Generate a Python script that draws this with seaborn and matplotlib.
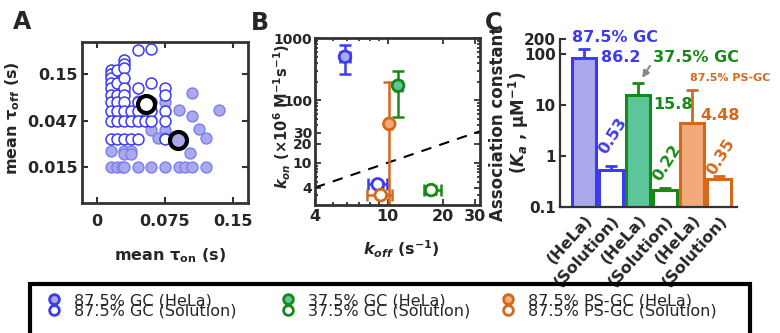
import matplotlib
matplotlib.use("Agg")
import matplotlib.pyplot as plt
import seaborn as sns
import pandas as pd
import numpy as np
from matplotlib.patches import Rectangle
from matplotlib.lines import Line2D
from matplotlib.ticker import FixedLocator, NullFormatter, NullLocator, LogLocator

sns.set_theme(style="ticks")
plt.rcParams["font.family"] = ["DejaVu Sans"]
plt.rcParams["font.weight"] = "bold"
plt.rcParams["axes.labelweight"] = "bold"
plt.rcParams["mathtext.fontset"] = "custom"
plt.rcParams["mathtext.rm"] = "DejaVu Sans:bold"
plt.rcParams["mathtext.it"] = "DejaVu Sans:italic:bold"
plt.rcParams["mathtext.bf"] = "DejaVu Sans:bold"

# colours
BLUE, BLUE_F = "#3b3bf0", "#a9a9ec"
GREEN, GREEN_F = "#168a16", "#5cc59a"
ORANGE, ORANGE_F = "#d4691c", "#f2aa7a"
DARK = "#333333"

# ---- panel A: single-molecule dwell times (87.5% GC) ----
sol_ton = [0.015] * 10 + [0.0225] * 7 + [0.03] * 10 + [0.0375] * 3 + [0.045] * 6 \
    + [0.0525] + [0.06] * 5 + [0.075] * 5
sol_toff = [0.165, 0.15, 0.135, 0.12, 0.105, 0.09, 0.075, 0.06, 0.047, 0.03,
            0.165, 0.12, 0.09, 0.075, 0.06, 0.047, 0.03,
            0.21, 0.19, 0.175, 0.135, 0.105, 0.09, 0.075, 0.06, 0.047, 0.03,
            0.06, 0.047, 0.03,
            0.27, 0.105, 0.075, 0.06, 0.047, 0.03,
            0.047,
            0.28, 0.12, 0.075, 0.06, 0.047,
            0.105, 0.09, 0.06, 0.047, 0.03]
hela_ton = [0.015, 0.0225, 0.0275, 0.03, 0.045, 0.06, 0.075, 0.09, 0.0975, 0.105, 0.12,
            0.015, 0.03, 0.0375, 0.03, 0.0375, 0.1025,
            0.06, 0.075, 0.0675, 0.075, 0.1125, 0.12,
            0.105, 0.09, 0.135, 0.105, 0.075,
            0.0235, 0.03, 0.03, 0.045, 0.06, 0.06]
hela_toff = [0.015] * 11 + [0.0225, 0.0225, 0.0225, 0.0205, 0.0205, 0.021,
                            0.0375, 0.0375, 0.031, 0.031, 0.038, 0.0305,
                            0.053, 0.0615, 0.0615, 0.094, 0.075,
                            0.136, 0.108, 0.0965, 0.076, 0.0615, 0.048]
mean_ton = [0.0537, 0.0897]
mean_toff = [0.0713, 0.0292]

# ---- panel B: rate constants ----
groups = ["87.5% GC (HeLa)", "87.5% GC (Solution)", "37.5% GC (HeLa)",
          "37.5% GC (Solution)", "87.5% PS-GC (HeLa)", "87.5% PS-GC (Solution)"]
koff = [5.84, 8.82, 11.4, 17.3, 10.2, 9.16]
koff_lo = [5.5, 7.83, 10.9, 15.8, 9.9, 7.67]
koff_hi = [6.2, 9.86, 11.9, 19.5, 10.5, 10.6]
kon = [500, 4.5, 172, 3.64, 42, 3.02]
kon_lo = [260, 4.1, 54, 3.1, 0.5, 2.8]
kon_hi = [760, 5.0, 295, 4.3, 200, 3.3]

# ---- panel C: association constants ----
bar_labels = ["(HeLa)", "(Solution)"] * 3
ka = [86.2, 0.53, 15.8, 0.22, 4.48, 0.35]
ka_hi = [130, 0.64, 27.9, 0.24, 20, 0.41]

edge_cols = [BLUE, BLUE, GREEN, GREEN, ORANGE, ORANGE]
face_cols = [BLUE_F, "white", GREEN_F, "white", ORANGE_F, "white"]

fig = plt.figure(figsize=(7.8, 3.33), dpi=100)
W, H = 780, 333


def px_axes(l, t, r, b):
    return fig.add_axes([l / W, 1 - b / H, (r - l) / W, (b - t) / H])


def frame(ax, lw=2.0):
    for s in ax.spines.values():
        s.set_visible(True)
        s.set_linewidth(lw)
        s.set_color(DARK)


TICK = 11.5

# ================= A =================
axA = px_axes(82, 42, 248, 203)
dfh = pd.DataFrame({"ton": hela_ton, "toff": hela_toff})
dfs = pd.DataFrame({"ton": sol_ton, "toff": sol_toff})
sns.scatterplot(data=dfh, x="ton", y="toff", ax=axA, s=62, color=BLUE_F,
                edgecolor="#7d7df0", linewidth=1.0, zorder=2)
sns.scatterplot(data=dfs, x="ton", y="toff", ax=axA, s=62, color="white",
                edgecolor=BLUE, linewidth=1.1, zorder=3)
axA.scatter(mean_ton[:1], mean_toff[:1], s=150, facecolor="white", edgecolor="black",
            linewidth=3, zorder=5)
axA.scatter(mean_ton[1:], mean_toff[1:], s=150, facecolor=BLUE_F, edgecolor="black",
            linewidth=3, zorder=5)
axA.set_yscale("log")
axA.set_xlim(-0.0165, 0.1665)
axA.set_ylim(0.00615, 0.331)
axA.xaxis.set_major_locator(FixedLocator([0, 0.075, 0.15]))
axA.set_xticklabels(["0", "0.075", "0.15"])
axA.yaxis.set_major_locator(FixedLocator([0.015, 0.047, 0.15]))
axA.yaxis.set_minor_locator(NullLocator())
axA.yaxis.set_minor_formatter(NullFormatter())
axA.set_yticklabels(["0.015", "0.047", "0.15"])
axA.tick_params(direction="in", top=True, right=True, length=4, width=1.5,
                labelsize=TICK, color=DARK)
axA.tick_params(axis="x", pad=8)
axA.tick_params(axis="y", pad=3)
axA.set_xlabel(r"mean $\mathrm{\tau_{on}}$ (s)", fontsize=TICK)
axA.set_ylabel(r"mean $\mathrm{\tau_{off}}$ (s)", fontsize=TICK)
axA.xaxis.set_label_coords(0.53, -0.27)
axA.yaxis.set_label_coords(-0.36, 0.53)
frame(axA)

# ================= B =================
axB = px_axes(315, 38, 480, 205)
line = [4, 32]
axB.plot(line, line, ls=(0, (5, 4)), color="black", lw=1.5, zorder=1)
for i in range(6):
    xe = [[koff[i] - koff_lo[i]], [koff_hi[i] - koff[i]]]
    ye = [[kon[i] - kon_lo[i]], [kon_hi[i] - kon[i]]]
    axB.errorbar(koff[i], kon[i], xerr=xe, yerr=ye, fmt="none", ecolor=edge_cols[i],
                 elinewidth=1.8, capsize=4, capthick=1.8, zorder=2)
dfb = pd.DataFrame({"koff": koff, "kon": kon, "g": groups})
sns.scatterplot(data=dfb, x="koff", y="kon", hue="g", palette=face_cols, ax=axB,
                s=70, legend=False, zorder=4)
axB.collections[-1].set_edgecolor(edge_cols)
axB.collections[-1].set_linewidth(2)
axB.set_xscale("log")
axB.set_yscale("log")
axB.set_xlim(4, 32)
axB.set_ylim(2.1, 1000)
axB.xaxis.set_major_locator(FixedLocator([4, 10, 20, 30]))
axB.xaxis.set_minor_locator(LogLocator(subs=np.arange(2, 10)))
axB.xaxis.set_minor_formatter(NullFormatter())
axB.set_xticklabels(["4", "10", "20", "30"])
axB.yaxis.set_major_locator(FixedLocator([4, 10, 20, 30, 100, 1000]))
axB.yaxis.set_minor_locator(LogLocator(subs=np.arange(2, 10)))
axB.yaxis.set_minor_formatter(NullFormatter())
axB.set_yticklabels(["4", "10", "20", "30", "100", "1000"])
axB.tick_params(which="both", direction="in", top=True, right=True, width=1.3,
                color=DARK)
axB.tick_params(which="major", length=4)
axB.tick_params(which="minor", length=2)
axB.tick_params(axis="x", which="major", pad=3, labelsize=TICK)
axB.tick_params(axis="y", which="major", pad=2, labelsize=10)
axB.set_xlabel(r"$k_{off}$ (s$^{-1}$)", fontsize=TICK)
axB.set_ylabel(r"$k_{on}$ ($\times$10$^{6}$ M$^{-1}$s$^{-1}$)", fontsize=10.5)
axB.xaxis.set_label_coords(0.52, -0.2)
axB.yaxis.set_label_coords(-0.135, 0.53)
frame(axB)

# ================= C =================
axC = px_axes(560, 39, 737, 207)
dfc = pd.DataFrame({"pos": [str(i) for i in range(6)], "ka": ka})
sns.barplot(data=dfc, x="pos", y="ka", ax=axC, width=0.87, color="white", zorder=2)
for p, fc, ec in zip(axC.patches, face_cols, edge_cols):
    p.set_facecolor(fc)
    p.set_edgecolor(ec)
    p.set_linewidth(2.2)
for i in range(6):
    axC.errorbar(i, ka[i], yerr=[[0], [ka_hi[i] - ka[i]]], fmt="none",
                 ecolor=edge_cols[i], elinewidth=2, capsize=4, capthick=2, zorder=1)
axC.set_yscale("log")
axC.set_ylim(0.1, 200)
axC.set_xlim(-0.89, 5.67)
axC.yaxis.set_major_locator(FixedLocator([0.1, 1, 10, 100, 200]))
axC.yaxis.set_minor_locator(NullLocator())
axC.yaxis.set_minor_formatter(NullFormatter())
axC.set_yticklabels(["0.1", "1", "10", "100", "200"])
axC.set_xticks(range(6))
axC.set_xticklabels(bar_labels, rotation=48, ha="right", va="top",
                    rotation_mode="anchor", fontsize=TICK)
axC.tick_params(axis="y", direction="in", length=4, width=1.5, labelsize=11,
                color=DARK, pad=3)
axC.tick_params(axis="x", length=0, pad=4)
axC.set_xlabel("")
axC.set_ylabel("Association constant\n($K_a$ , µM$^{-1}$)", fontsize=12,
               linespacing=1.0)
axC.yaxis.set_label_coords(-0.165, 0.5)
for s in ["top", "right"]:
    axC.spines[s].set_visible(False)
for s in ["left", "bottom"]:
    axC.spines[s].set_linewidth(1.6)
    axC.spines[s].set_color(DARK)

AN = 11.5
axC.text(1.13, 215, "87.5% GC", color=BLUE, fontsize=AN, ha="center", va="center",
         clip_on=False)
axC.text(0.64, 86, "86.2", color=BLUE, fontsize=AN, ha="left", va="center")
axC.text(2.56, 86, "37.5% GC", color=GREEN, fontsize=AN, ha="left", va="center",
         clip_on=False)
axC.text(2.56, 10.4, "15.8", color=GREEN, fontsize=AN, ha="left", va="center")
axC.text(3.93, 34.9, "87.5% PS-GC", color=ORANGE, fontsize=8, ha="left",
         va="center", clip_on=False)
axC.text(4.3, 6.2, "4.48", color=ORANGE, fontsize=AN, ha="left", va="center")
axC.text(1.07, 2.47, "0.53", color=BLUE, fontsize=AN, ha="center", va="center",
         rotation=58)
axC.text(3.07, 0.73, "0.22", color=GREEN, fontsize=AN, ha="center", va="center",
         rotation=58)
axC.text(5.07, 0.95, "0.35", color=ORANGE, fontsize=AN, ha="center", va="center",
         rotation=58)
axC.annotate("", xy=(2.1, 31), xytext=(2.5, 66),
             arrowprops=dict(arrowstyle="-|>", color="#888888", lw=1.5,
                             mutation_scale=10))

# panel letters
fig.text(22 / W, 1 - 22 / H, "A", fontsize=17, ha="center", va="center")
fig.text(260 / W, 1 - 23 / H, "B", fontsize=17, ha="center", va="center")
fig.text(494 / W, 1 - 23 / H, "C", fontsize=17, ha="center", va="center")

# legend
fig.patches.append(Rectangle((30 / W, -0.1), 720 / W, 1 - 284 / H + 0.1,
                             transform=fig.transFigure, fill=False,
                             edgecolor="black", lw=3, figure=fig))
col_x = [48, 282, 502]
for c in range(3):
    hs = []
    for i in (2 * c, 2 * c + 1):
        hs.append(Line2D([], [], ls="none", marker="o", markersize=7,
                         markerfacecolor=face_cols[i], markeredgecolor=edge_cols[i],
                         markeredgewidth=2))
    fig.legend(hs, groups[2 * c:2 * c + 2], loc="upper left",
               bbox_to_anchor=(col_x[c] / W, 1 - 293 / H), frameon=False,
               handlelength=0.8, handletextpad=0.8, labelspacing=-0.3,
               borderpad=0, borderaxespad=0,
               prop={"size": 11.5, "weight": "normal"})

fig.savefig("out.png", dpi=100)
